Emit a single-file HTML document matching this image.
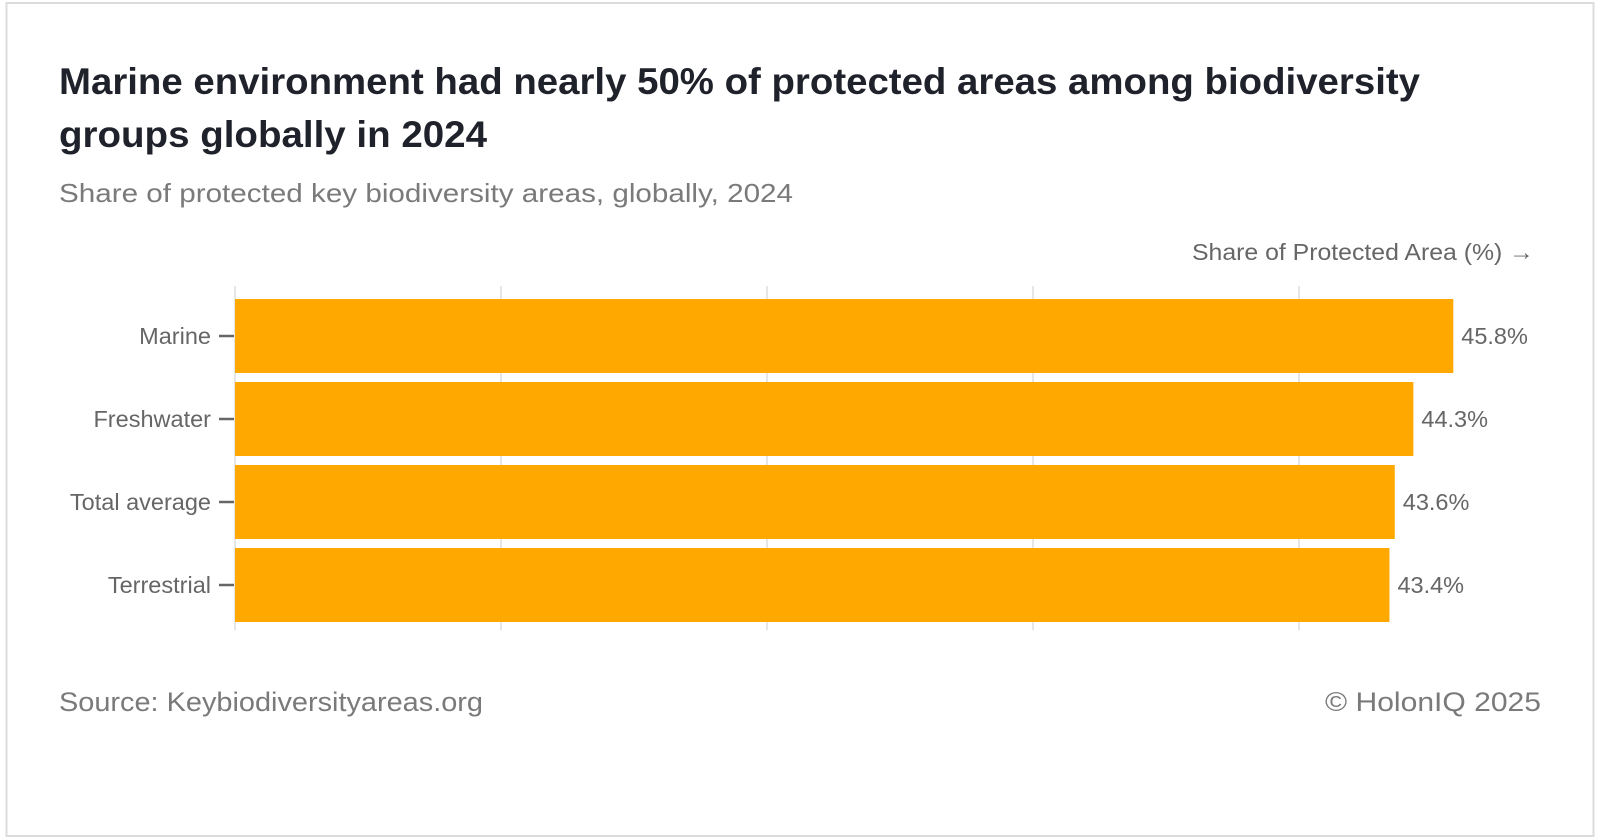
<!DOCTYPE html>
<html><head><meta charset="utf-8"><style>
html,body{margin:0;padding:0;background:#fff;}
svg{display:block;font-family:"Liberation Sans",sans-serif;}
</style></head><body>
<svg id="chart" width="1600" height="840" viewBox="0 0 1600 840" xmlns="http://www.w3.org/2000/svg">
<rect x="6.5" y="3" width="1587" height="833" fill="#fff" stroke="#dcdcdc" stroke-width="2"/>
<text x="59" y="94" font-size="37" font-weight="bold" fill="#1f222a" textLength="1361" lengthAdjust="spacingAndGlyphs">Marine environment had nearly 50% of protected areas among biodiversity</text>
<text x="59" y="147" font-size="37" font-weight="bold" fill="#1f222a" textLength="428" lengthAdjust="spacingAndGlyphs">groups globally in 2024</text>
<text x="59" y="202" font-size="26" fill="#7a7a7a" textLength="734" lengthAdjust="spacingAndGlyphs">Share of protected key biodiversity areas, globally, 2024</text>
<text x="1192" y="260" font-size="23" fill="#666" textLength="342" lengthAdjust="spacingAndGlyphs">Share of Protected Area (%) →</text>
<g id="grid"></g>
<g id="bars"></g>
<text x="59" y="711" font-size="27" fill="#7a7a7a" textLength="424" lengthAdjust="spacingAndGlyphs">Source: Keybiodiversityareas.org</text>
<text x="1325" y="711" font-size="27" fill="#7a7a7a" textLength="216" lengthAdjust="spacingAndGlyphs">© HolonIQ 2025</text>
</svg>
<script>
const categories = ["Marine", "Freshwater", "Total average", "Terrestrial"];
const values = [45.8, 44.3, 43.6, 43.4];
const valueLabels = ["45.8%", "44.3%", "43.6%", "43.4%"];
const gridTicks = [0, 10, 20, 30, 40];

const NS = "http://www.w3.org/2000/svg";
const x0 = 235, pxPer = 26.6;
const yTop = 290, band = 83, pad = 9;
function xScale(v){ return x0 + v * pxPer; }
function yScale(i){ return yTop + i * band; }
function mk(tag, attrs){ const e = document.createElementNS(NS, tag); for (const k in attrs) e.setAttribute(k, attrs[k]); return e; }

const grid = document.getElementById('grid');
gridTicks.forEach(t => {
  const l = mk('line', {x1: xScale(t), x2: xScale(t), y1: 286, y2: 630, stroke: '#e6e6e6', 'stroke-width': 2});
  
  
  grid.appendChild(l);
});

const bars = document.getElementById('bars');
categories.forEach((c, i) => {
  const y = yScale(i) + pad, h = band - pad;
  const r = mk('rect', {x: x0, y: y, width: xScale(values[i]) - x0, height: h, fill: '#ffa800'});
  
  
  bars.appendChild(r);
  const cy = y + h / 2;
  const tk = mk('line', {x1: 219, x2: 234, y1: cy, y2: cy, stroke: '#666', 'stroke-width': 2.5});
  
  
  bars.appendChild(tk);
  const lab = mk('text', {x: 211, y: cy + 8, 'font-size': 23.5, fill: '#666', 'text-anchor': 'end'});
  lab.textContent = c;
  
  
  bars.appendChild(lab);
  const vl = mk('text', {x: xScale(values[i]) + 8, y: cy + 8, 'font-size': 23.5, fill: '#666'});
  vl.textContent = valueLabels[i];
  
  
  bars.appendChild(vl);
});
</script>
</body></html>
